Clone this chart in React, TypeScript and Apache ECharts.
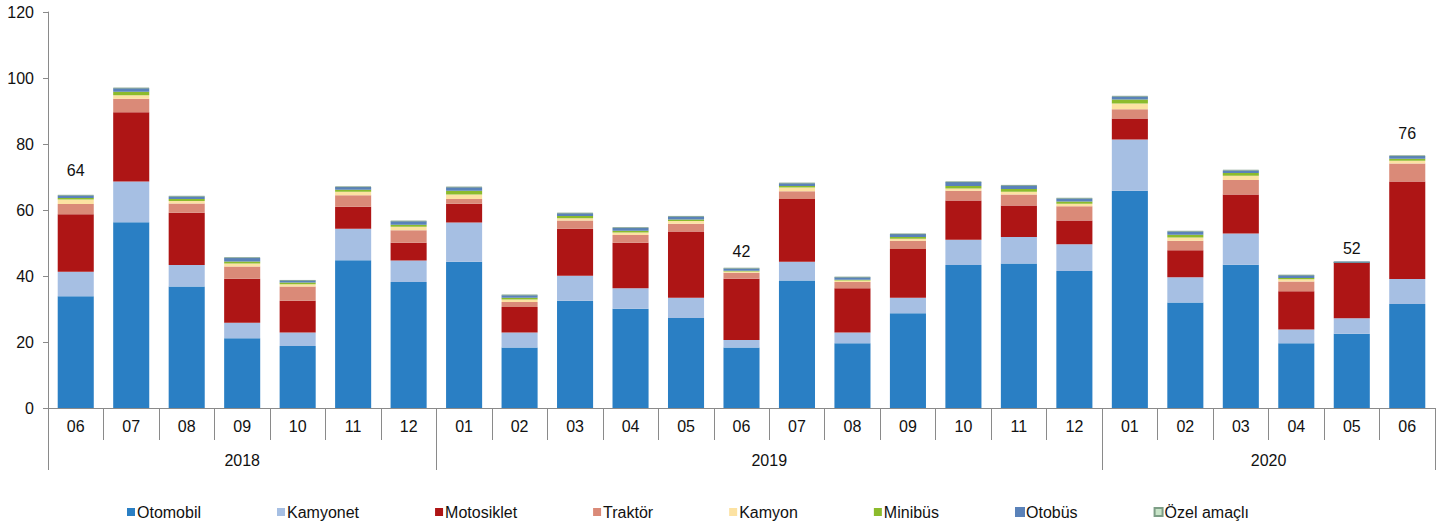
import React, { useEffect, useRef } from "react";
import * as echarts from "echarts";

const months = ["06","07","08","09","10","11","12","01","02","03","04","05","06","07","08","09","10","11","12","01","02","03","04","05","06"];
// year axis: 51 half-month points; labels at group centres, ticks at group borders
const yearLabelAt: Record<number, string> = { 7: "2018", 26: "2019", 44: "2020" };
const yearBorders = [0, 14, 38, 50];
const yTicks = { min: 0, max: 120, interval: 20 };

const otomobil = [33.9,56.3,36.8,21.1,18.8,44.8,38.2,44.3,18.3,32.5,30.1,27.3,18.3,38.6,19.6,28.7,43.3,43.8,41.5,65.8,32.0,43.4,19.6,22.5,31.5];
const kamyonet = [7.4,12.3,6.5,4.7,4.1,9.5,6.5,11.9,4.6,7.6,6.2,6.1,2.3,5.7,3.3,4.7,7.7,8.0,8.1,15.6,7.6,9.5,4.2,4.7,7.6];
const motosiklet = [17.4,21.0,15.9,13.4,9.6,6.7,5.4,5.7,7.7,14.2,13.8,20.1,18.6,19.0,13.4,14.8,11.9,9.6,7.2,6.3,8.2,11.8,11.6,17.0,29.5];
const traktor = [3.1,4.1,2.8,3.7,4.3,3.5,3.8,1.4,1.5,2.5,2.3,2.3,1.8,2.4,1.9,2.5,2.9,3.3,4.3,2.8,2.9,4.4,2.9,0,5.5];
const kamyon = [1.4,1.1,0.7,0.9,0.7,1.0,1.0,1.4,0.8,0.7,0.8,0.9,0.4,1.1,0.4,0.6,0.7,0.8,0.8,1.8,1.0,1.3,0.7,0,0.8];
const minibus = [0.4,1.0,0.6,0.6,0.5,0.6,0.6,1.1,0.5,0.7,0.5,0.4,0.2,0.5,0.3,0.5,0.8,0.9,0.7,1.2,0.8,0.8,0.4,0,0.6];
const otobus = [0.8,1.1,0.8,1.1,0.6,0.9,1.1,1.1,0.8,0.8,0.9,0.9,0.7,0.8,0.7,0.9,1.2,1.0,0.9,0.9,1.0,0.8,0.8,0,0.9];
const ozel = [0.1,0.1,0.1,0.1,0.1,0.1,0.1,0.1,0.1,0.1,0.1,0.1,0.1,0.1,0.1,0.1,0.1,0.1,0.1,0.1,0.1,0.1,0.1,0,0.1];
// totals printed above selected bars
const totalLabels: (number | null)[] = [64,null,null,null,null,null,null,null,null,null,null,null,42,null,null,null,null,null,null,null,null,null,null,52,76];

const FONT = "'Liberation Sans', Arial, sans-serif";
// label gap above the bar for each labelled total (style, not data)
const labelGap: Record<number, number> = { 0: 17, 12: 8, 23: 5, 24: 14 };

export default function App() {
  const ref = useRef<HTMLDivElement>(null);
  useEffect(() => {
    document.body.style.margin = "0";
    if (!ref.current) return;
    const chart = echarts.init(ref.current, undefined, { renderer: "svg" });
    const yearData = Array.from({ length: 51 }, (_, i) => yearLabelAt[i] ?? "");
    const mk = (name: string, data: any[], color: string, extra: any = {}) => ({
      name,
      type: "bar",
      stack: "total",
      barCategoryGap: "35%",
      data,
      itemStyle: { color },
      ...extra,
    });
    chart.setOption({
      animation: false,
      textStyle: { fontFamily: FONT },
      grid: { left: 48, right: 18, top: 12, bottom: 120, containLabel: false },
      legend: {
        left: 122,
        top: 499,
        itemWidth: 8,
        itemHeight: 8,
        itemGap: 76,
        icon: "rect",
        textStyle: { fontSize: 16, color: "#111", fontFamily: FONT, padding: [0, 0, 0, -3] },
        data: ["Otomobil","Kamyonet","Motosiklet","Traktör","Kamyon","Minibüs","Otobüs","Özel amaçlı"],
      },
      xAxis: [
        {
          type: "category",
          data: months,
          position: "bottom",
          axisLine: { lineStyle: { color: "#8a8a8a", width: 1 } },
          axisTick: { show: true, interval: 0, length: 32, lineStyle: { color: "#8a8a8a" } },
          axisLabel: { interval: 0, fontSize: 16, color: "#111", margin: 10, fontFamily: FONT },
        },
        {
          type: "category",
          data: yearData,
          position: "bottom",
          boundaryGap: false,
          axisLine: { show: false },
          axisTick: {
            show: true,
            length: 62,
            interval: (i: number) => yearBorders.includes(i),
            lineStyle: { color: "#8a8a8a" },
          },
          axisLabel: { interval: 0, fontSize: 16, color: "#111", margin: 44, fontFamily: FONT },
        },
      ],
      yAxis: {
        type: "value",
        min: yTicks.min,
        max: yTicks.max,
        interval: yTicks.interval,
        splitLine: { show: false },
        axisLine: { show: true, lineStyle: { color: "#8a8a8a" } },
        axisTick: { show: true, length: 5, lineStyle: { color: "#8a8a8a" } },
        axisLabel: { fontSize: 16, color: "#111", margin: 14, fontFamily: FONT },
      },
      series: [
        mk("Otomobil", otomobil, "#2a7fc4"),
        mk("Kamyonet", kamyonet, "#a6bfe3"),
        mk("Motosiklet", motosiklet, "#ae1515"),
        mk("Traktör", traktor, "#da8a78"),
        mk("Kamyon", kamyon, "#fce2a2"),
        mk("Minibüs", minibus, "#8cbb2c"),
        mk("Otobüs", otobus, "#5a82b9", {
          itemStyle: { color: "#5a82b9", borderColor: "#5a82b9", borderWidth: 1.5 },
        }),
        mk(
          "Özel amaçlı",
          ozel.map((v, i) =>
            totalLabels[i] != null
              ? {
                  value: v,
                  label: {
                    show: true,
                    position: "top",
                    distance: labelGap[i] ?? 10,
                    formatter: String(totalLabels[i]),
                    fontSize: 16,
                    color: "#111",
                    fontFamily: FONT,
                  },
                }
              : v
          ),
          "#c8e4c8",
          { itemStyle: { color: "#c8e4c8", borderColor: "#7d9e86", borderWidth: 0.5 } }
        ),
      ],
    });
    return () => chart.dispose();
  }, []);
  return <div ref={ref} style={{ width: 1453, height: 528 }} />;
}
